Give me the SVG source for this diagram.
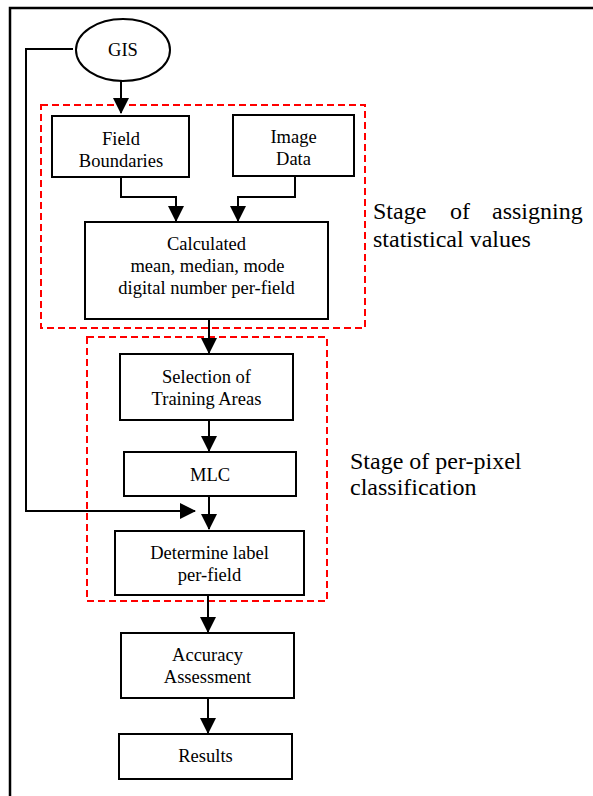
<svg xmlns="http://www.w3.org/2000/svg" width="593" height="796" viewBox="0 0 593 796">
<style>
.box{fill:#fff;stroke:#000;stroke-width:2}
.t{font-family:"Liberation Serif","Times New Roman",serif;font-size:18.5px;fill:#000;text-anchor:middle}
.s{font-family:"Liberation Serif","Times New Roman",serif;font-size:24px;fill:#000}
.ln{fill:none;stroke:#000;stroke-width:2}
.stage{fill:none;stroke:#ff0000;stroke-width:2;stroke-dasharray:7 4}
</style>
<defs>
<marker id="ah" markerWidth="16" markerHeight="16" viewBox="0 0 16 16" refX="15" refY="8" orient="auto" markerUnits="userSpaceOnUse">
<path d="M0,0 L16,8 L0,16 Z" fill="#000"/>
</marker>
</defs>
<rect x="0" y="0" width="593" height="796" fill="#fff"/>
<g id="frame"><path d="M10,796 V8 H593" fill="none" stroke="#000" stroke-width="2.5"/></g>
<g id="stage1"><rect class="stage" x="41" y="105" width="324" height="223"/></g>
<g id="stage2"><rect class="stage" x="87" y="337" width="240" height="264"/></g>
<g id="connectors">
<path class="ln" d="M73,49 H26 V511 H195" marker-end="url(#ah)"/>
<path class="ln" d="M121,81 V113" marker-end="url(#ah)"/>
<path class="ln" d="M121,177 V197 H176 V221" marker-end="url(#ah)"/>
<path class="ln" d="M295,176 V197 H238 V221" marker-end="url(#ah)"/>
<path class="ln" d="M209,319 V353" marker-end="url(#ah)"/>
<path class="ln" d="M209,420 V451" marker-end="url(#ah)"/>
<path class="ln" d="M209,496 V529" marker-end="url(#ah)"/>
<path class="ln" d="M208,595 V632" marker-end="url(#ah)"/>
<path class="ln" d="M208,698 V733" marker-end="url(#ah)"/>
</g>
<g id="gis"><ellipse class="box" cx="123" cy="50" rx="47" ry="31"/><text class="t" x="123" y="56">GIS</text></g>
<g id="field"><rect class="box" x="52" y="116" width="137" height="61"/><text class="t" x="121" y="145">Field</text><text class="t" x="121" y="167">Boundaries</text></g>
<g id="image"><rect class="box" x="233" y="115" width="121" height="61"/><text class="t" x="293.5" y="143">Image</text><text class="t" x="293.5" y="165">Data</text></g>
<g id="calc"><rect class="box" x="85" y="222" width="243" height="97"/><text class="t" x="206.5" y="250">Calculated</text><text class="t" x="207.5" y="272">mean, median, mode</text><text class="t" x="206.5" y="294">digital number per-field</text></g>
<g id="selection"><rect class="box" x="120" y="354" width="173" height="66"/><text class="t" x="206.5" y="383">Selection of</text><text class="t" x="206.5" y="405">Training Areas</text></g>
<g id="mlc"><rect class="box" x="124" y="452" width="172" height="44"/><text class="t" x="210" y="481">MLC</text></g>
<g id="determine"><rect class="box" x="115" y="531" width="189" height="64"/><text class="t" x="209.5" y="559">Determine label</text><text class="t" x="209.5" y="581">per-field</text></g>
<g id="accuracy"><rect class="box" x="121" y="633" width="173" height="65"/><text class="t" x="207.5" y="661">Accuracy</text><text class="t" x="207.5" y="683">Assessment</text></g>
<g id="results"><rect class="box" x="119" y="734" width="173" height="45"/><text class="t" x="205.5" y="762">Results</text></g>
<g id="label1"><text class="s" y="219"><tspan x="373">Stage</tspan><tspan x="450">of</tspan><tspan x="492">assigning</tspan></text><text class="s" x="373" y="247">statistical values</text></g>
<g id="label2"><text class="s" x="350" y="469">Stage of per-pixel</text><text class="s" x="350" y="495">classification</text></g>
</svg>
